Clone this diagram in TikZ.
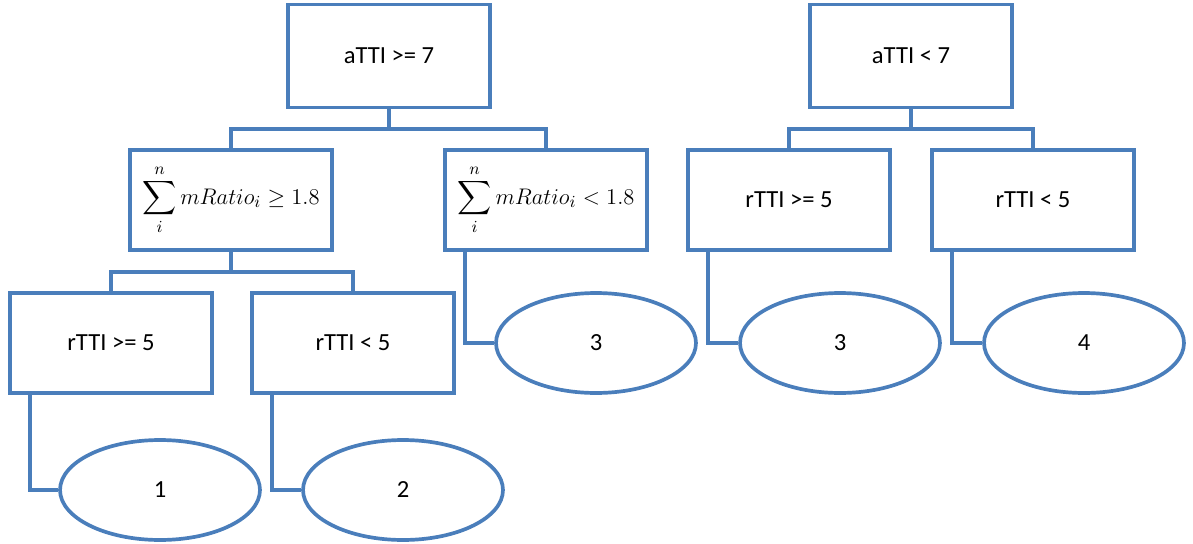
\documentclass[tikz,border=0pt]{standalone}
\usepackage{fontspec}
\setmainfont{Carlito}
\usepackage{amsmath,amssymb}
\usepackage{graphicx}
\usetikzlibrary{shapes.geometric}
\definecolor{edgeblue}{RGB}{74,126,187}
\tikzset{
	box/.style={draw=edgeblue,line width=2.1pt,fill=white,inner sep=0pt,minimum width=4.04cm,minimum height=2cm,font=\fontsize{14}{16}\selectfont},
	sumbox/.style={box,font=\fontsize{12.6}{15}\selectfont},
	leaf/.style={ellipse,draw=edgeblue,line width=2.1pt,fill=white,inner sep=0pt,minimum width=4cm,minimum height=2cm,font=\fontsize{14}{16}\selectfont},
	link/.style={draw=edgeblue,line width=2.1pt}
}
\begin{document}
\begin{tikzpicture}[x=0.02cm,y=-0.02cm]
		\useasboundingbox (0,0) rectangle (1193,544);
		\def\drop{20};
		\def\off{22};
		% top level
		\node[box,minimum height=2.06cm] (aGe) at (389,56) {aTTI >= 7};
		\node[box,minimum height=2.06cm] (aLt) at (911,56) {aTTI < 7};
		% second level
		\node[sumbox] (sGe) at (231,200) {\raisebox{6pt}{\scalebox{1.07}{$\displaystyle\sum_{i}^{n} mRatio_i \geq 1.8$}}};
		\node[sumbox] (sLt) at (546,200) {\raisebox{6pt}{\scalebox{1.07}{$\displaystyle\sum_{i}^{n} mRatio_i < 1.8$}}};
		\node[box] (rGeR) at (789,200) {rTTI >= 5};
		\node[box] (rLtR) at (1033,200) {rTTI < 5};
		% third level
		\node[box] (rGeL) at (111,343) {rTTI >= 5};
		\node[box] (rLtL) at (353,343) {rTTI < 5};
		\node[leaf] (cThreeA) at (596,343) {3};
		\node[leaf] (cThreeB) at (840,343) {3};
		\node[leaf] (cFour) at (1084,343) {4};
		% bottom
		\node[leaf] (cOne) at (160,490) {1};
		\node[leaf] (cTwo) at (403,490) {2};
		% tree links
		\draw[link] (aGe.south) -- ++(0,\drop) -| (sGe.north);
		\draw[link] (aGe.south) -- ++(0,\drop) -| (sLt.north);
		\draw[link] (aLt.south) -- ++(0,\drop) -| (rGeR.north);
		\draw[link] (aLt.south) -- ++(0,\drop) -| (rLtR.north);
		\draw[link] (sGe.south) -- ++(0,\drop) -| (rGeL.north);
		\draw[link] (sGe.south) -- ++(0,\drop) -| (rLtL.north);
		% leaf links
		\draw[link] ([xshift=\off*0.02cm]rGeL.south west) |- (cOne.west);
		\draw[link] ([xshift=\off*0.02cm]rLtL.south west) |- (cTwo.west);
		\draw[link] ([xshift=\off*0.02cm]sLt.south west) |- (cThreeA.west);
		\draw[link] ([xshift=\off*0.02cm]rGeR.south west) |- (cThreeB.west);
		\draw[link] ([xshift=\off*0.02cm]rLtR.south west) |- (cFour.west);
	\end{tikzpicture}
\end{document}
